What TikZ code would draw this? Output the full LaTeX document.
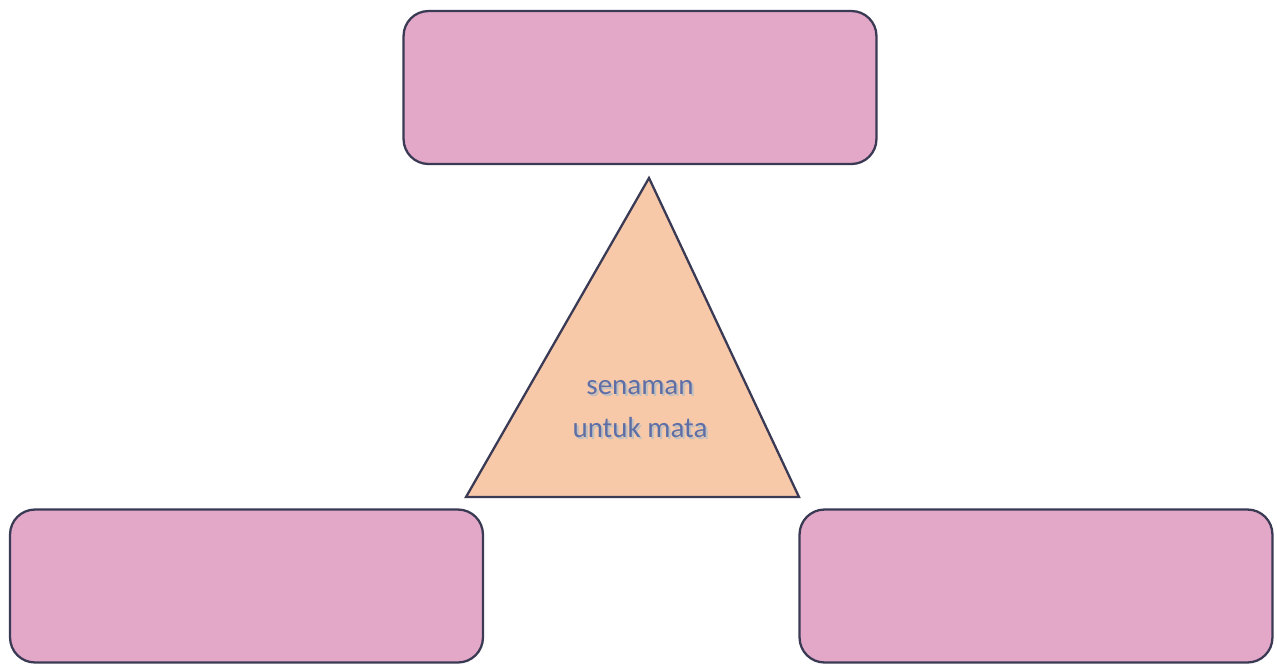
\documentclass[tikz,border=0pt]{standalone}
\usepackage{fontspec}
\setmainfont{Carlito}
\usepackage{xcolor}
\definecolor{boxpink}{HTML}{E3A8C8}
\definecolor{tripeach}{HTML}{F7C9A9}
\definecolor{edgedark}{HTML}{3A3A55}
\definecolor{labelblue}{HTML}{5F6FA6}
\begin{document}
\begin{tikzpicture}[x=0.02cm,y=-0.02cm,every node/.style={font=\fontsize{16.5}{24}\selectfont}]
\useasboundingbox (0,0) rectangle (1277,664);
\tikzset{
  pinkbox/.style={draw=edgedark,fill=boxpink,line width=1.3pt,rounded corners=0.5cm,
    minimum width=9.46cm,minimum height=3.06cm,inner sep=0pt}
}
\node[pinkbox] (top) at (640,87.5) {};
\node[pinkbox] (left) at (246.5,586) {};
\node[pinkbox] (right) at (1036,586) {};
\coordinate (apex) at (649,178);
\coordinate (baseL) at (466,497);
\coordinate (baseR) at (799,497);
\draw[edgedark,fill=tripeach,line width=1.3pt,line join=miter] (apex) -- (baseR) -- (baseL) -- cycle;
\node[text=black!25,align=center] at (642,411) {senaman\\untuk mata};
\node[text=labelblue,align=center] (label) at (640,409) {senaman\\untuk mata};
\end{tikzpicture}
\end{document}
